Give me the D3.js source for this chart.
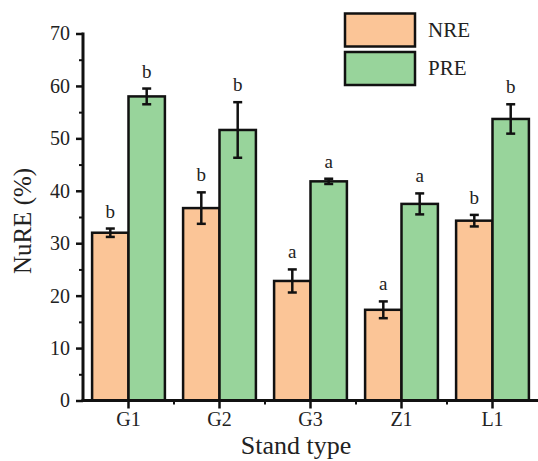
<!DOCTYPE html>
<html>
<head>
<meta charset="utf-8">
<script src="https://cdn.jsdelivr.net/npm/d3@7"></script>
<style>
  body { margin: 0; background: #fff; }
  svg text { font-family: "Liberation Serif", "Times New Roman", serif; fill: #222; }
</style>
</head>
<body>
<svg id="chart" width="538" height="461"></svg>
<script>
// data
let standTypes = ["G1", "G2", "G3", "Z1", "L1"];
let seriesKeys = ["NRE", "PRE"];
let nreValues = [32.0, 36.7, 22.8, 17.3, 34.3];
let nreErrors = [0.8, 3.0, 2.2, 1.6, 1.1];
let preValues = [58.0, 51.6, 41.8, 37.5, 53.7];
let preErrors = [1.5, 5.3, 0.5, 2.0, 2.8];
let nreLetters = ["b", "b", "a", "a", "b"];
let preLetters = ["b", "b", "a", "a", "b"];
let yTicks = [0, 10, 20, 30, 40, 50, 60, 70];

let svg = d3.select("#chart");

let plotLeft = 83, plotRight = 538, plotTop = 33.5, plotBottom = 400.5;

let color = d3.scaleOrdinal()
    .domain(seriesKeys)
    .range(["#fbc597", "#98d49b"]);

let x = d3.scaleBand()
    .domain(standTypes)
    .range([plotLeft, plotRight])
    .paddingInner(0.2)
    .paddingOuter(0.1);

let xSub = d3.scaleBand()
    .domain(seriesKeys)
    .range([0, x.bandwidth()]);

let y = d3.scaleLinear()
    .domain([0, 70])
    .range([plotBottom, plotTop]);

let rows = standTypes.map(function(d, i) {
    return [
        {cat: d, key: "NRE", v: nreValues[i], e: nreErrors[i], l: nreLetters[i]},
        {cat: d, key: "PRE", v: preValues[i], e: preErrors[i], l: preLetters[i]}
    ];
}).flat();

function barMid(d) { return x(d.cat) + xSub(d.key) + xSub.bandwidth() / 2; }

// bars
svg.append("g")
    .selectAll("rect")
    .data(rows)
    .join("rect")
    .attr("x", function(d) { return x(d.cat) + xSub(d.key); })
    .attr("y", function(d) { return y(d.v); })
    .attr("width", xSub.bandwidth())
    .attr("height", function(d) { return y(0) - y(d.v); })
    .style("fill", function(d) { return color(d.key); })
    .style("stroke", "#111")
    .style("stroke-width", 2.5);

// error bars
let err = svg.append("g")
    .selectAll("g")
    .data(rows)
    .join("g")
    .attr("transform", function(d) { return `translate(${barMid(d)}, 0)`; })
    .style("stroke", "#111")
    .style("stroke-width", 2.5);

err.append("line")
    .attr("y1", function(d) { return y(d.v - d.e); })
    .attr("y2", function(d) { return y(d.v + d.e); });
err.append("line")
    .attr("x1", -4.5).attr("x2", 4.5)
    .attr("y1", function(d) { return y(d.v + d.e); })
    .attr("y2", function(d) { return y(d.v + d.e); });
err.append("line")
    .attr("x1", -4.5).attr("x2", 4.5)
    .attr("y1", function(d) { return y(d.v - d.e); })
    .attr("y2", function(d) { return y(d.v - d.e); });

// significance letters
svg.append("g")
    .selectAll("text")
    .data(rows)
    .join("text")
    .attr("x", barMid)
    .attr("y", function(d) { return y(d.v + d.e) - 11; })
    .attr("text-anchor", "middle")
    .style("font-size", "19px")
    .text(function(d) { return d.l; });

// y axis
let yAxis = svg.append("g")
    .attr("transform", `translate(${plotLeft}, 0)`)
    .call(d3.axisLeft(y).tickValues(yTicks).tickSize(7).tickPadding(6))
    .call(function(g) { g.select(".domain").remove(); });
yAxis.selectAll(".tick line").style("stroke", "#111").style("stroke-width", 2.5);
yAxis.selectAll(".tick text").style("font-size", "20px").style("font-family", "Liberation Serif, serif").attr("fill", "#222");

let yMinor = svg.append("g")
    .attr("transform", `translate(${plotLeft}, 0)`)
    .call(d3.axisLeft(y).tickValues(d3.range(5, 70, 10)).tickSize(4).tickFormat(""))
    .call(function(g) { g.select(".domain").remove(); });
yMinor.selectAll(".tick line").style("stroke", "#111").style("stroke-width", 2);

// x axis
let xAxis = svg.append("g")
    .attr("transform", `translate(0, ${plotBottom})`)
    .call(d3.axisBottom(x).tickSize(8).tickPadding(3))
    .call(function(g) { g.select(".domain").remove(); });
xAxis.selectAll(".tick line").style("stroke", "#111").style("stroke-width", 2.5);
xAxis.selectAll(".tick text").style("font-size", "20px").style("font-family", "Liberation Serif, serif").attr("fill", "#222");

// minor ticks between the groups
let gap = (x.step() - x.bandwidth()) / 2;
svg.append("g")
    .selectAll("line")
    .data(standTypes.slice(1))
    .join("line")
    .attr("x1", function(d) { return x(d) - gap; })
    .attr("x2", function(d) { return x(d) - gap; })
    .attr("y1", plotBottom)
    .attr("y2", plotBottom + 4)
    .style("stroke", "#111")
    .style("stroke-width", 2);

// axis lines
svg.append("line")
    .attr("x1", plotLeft).attr("x2", plotLeft)
    .attr("y1", plotTop - 1).attr("y2", plotBottom + 1.25)
    .style("stroke", "#111").style("stroke-width", 3);
svg.append("line")
    .attr("x1", plotLeft - 1.5).attr("x2", plotRight)
    .attr("y1", plotBottom).attr("y2", plotBottom)
    .style("stroke", "#111").style("stroke-width", 3);

// axis titles
svg.append("text")
    .attr("text-anchor", "middle")
    .attr("transform", "translate(31, 221) rotate(-90)")
    .style("font-size", "25px")
    .text("NuRE (%)");

svg.append("text")
    .attr("text-anchor", "middle")
    .attr("x", 296)
    .attr("y", 454)
    .style("font-size", "26px")
    .text("Stand type");

// legend
let legend = svg.append("g")
    .selectAll("g")
    .data(seriesKeys)
    .join("g")
    .attr("transform", function(d, i) { return `translate(345, ${13.5 + i * 38.5})`; });

legend.append("rect")
    .attr("width", 70)
    .attr("height", 33)
    .style("fill", function(d) { return color(d); })
    .style("stroke", "#111")
    .style("stroke-width", 2.5);

legend.append("text")
    .attr("x", 83)
    .attr("y", 23)
    .style("font-size", "21px")
    .text(function(d) { return d; });
</script>
</body>
</html>
